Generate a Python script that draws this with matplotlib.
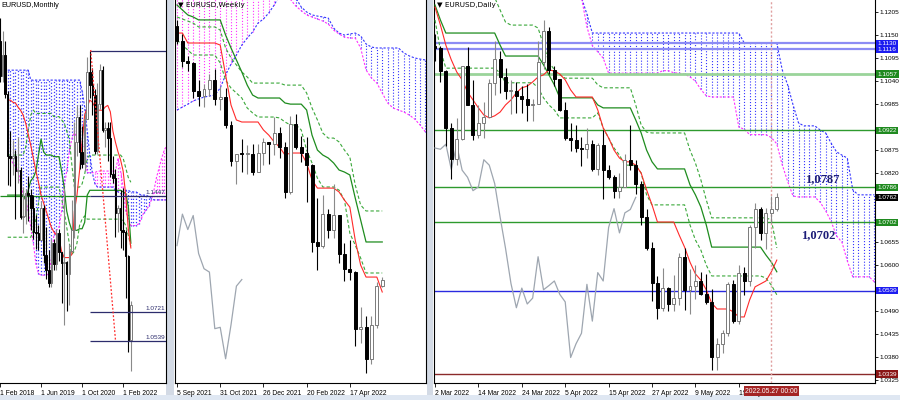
import matplotlib
matplotlib.use("Agg")
import matplotlib.pyplot as plt
import matplotlib.transforms as mtransforms
from matplotlib.patches import Rectangle
import numpy as np

plt.rcParams["font.family"] = ["Liberation Sans", "DejaVu Sans"]

W, H = 900, 400
BLUE = "#3434ff"
MAG = "#ff30ff"
RED = "#ff2a2a"
GREEN = "#1e8c1e"
LGREEN = "#3aa83a"
GRAY = "#9ea6b0"
NAVY = "#2c2c6c"

# ---------------- monthly, index 0 = Feb 2018 ----------------
m_open = [1.2414, 1.2194, 1.2324, 1.2079, 1.1691, 1.1684, 1.1691, 1.1601, 1.1604, 1.1313,
          1.1317, 1.1466, 1.1448, 1.1372, 1.1217, 1.1213, 1.1169, 1.1369, 1.1076, 1.0985,
          1.0899, 1.1152, 1.1017, 1.1213, 1.1093, 1.1027, 1.1031, 1.0955, 1.1101, 1.1234,
          1.1779, 1.1937, 1.1720, 1.1647, 1.1927, 1.2216, 1.2136, 1.2074, 1.1728, 1.2020,
          1.2228, 1.1858, 1.1869, 1.1808, 1.1580, 1.1558, 1.1338, 1.1370, 1.1235, 1.1218,
          1.1067, 1.0544]
m_high = [1.2555, 1.2476, 1.2414, 1.2097, 1.1852, 1.1791, 1.1733, 1.1815, 1.1625, 1.1500,
          1.1486, 1.1570, 1.1489, 1.1448, 1.1324, 1.1265, 1.1412, 1.1386, 1.1250, 1.1109,
          1.1179, 1.1175, 1.1239, 1.1239, 1.1097, 1.1495, 1.1038, 1.1147, 1.1422, 1.1908,
          1.2011, 1.2011, 1.1880, 1.1965, 1.2310, 1.2349, 1.2243, 1.2113, 1.2150, 1.2266,
          1.2254, 1.1909, 1.1909, 1.1909, 1.1692, 1.1616, 1.1386, 1.1482, 1.1495, 1.1233,
          1.1076, 1.0787]
m_low = [1.2153, 1.2155, 1.2055, 1.1510, 1.1508, 1.1575, 1.1301, 1.1526, 1.1302, 1.1216,
         1.1269, 1.1289, 1.1234, 1.1176, 1.1111, 1.1107, 1.1168, 1.1028, 1.0927, 1.0879,
         1.0879, 1.0981, 1.0981, 1.1036, 1.0778, 1.0636, 1.0727, 1.0767, 1.1095, 1.1185,
         1.1696, 1.1612, 1.1622, 1.1603, 1.1922, 1.2054, 1.1952, 1.1704, 1.1704, 1.1986,
         1.1847, 1.1752, 1.1664, 1.1563, 1.1524, 1.1186, 1.1222, 1.1121, 1.1106, 1.0806,
         1.0471, 1.0349]
m_close = [1.2194, 1.2324, 1.2079, 1.1691, 1.1684, 1.1691, 1.1601, 1.1604, 1.1313, 1.1317,
           1.1466, 1.1448, 1.1372, 1.1217, 1.1213, 1.1169, 1.1369, 1.1076, 1.0985, 1.0899,
           1.1152, 1.1017, 1.1213, 1.1093, 1.1027, 1.1031, 1.0955, 1.1101, 1.1234, 1.1779,
           1.1937, 1.1720, 1.1647, 1.1927, 1.2216, 1.2136, 1.2074, 1.1728, 1.2020, 1.2228,
           1.1858, 1.1869, 1.1808, 1.1580, 1.1558, 1.1338, 1.1370, 1.1235, 1.1218, 1.1067,
           1.0544, 1.0762]
m_lines_start = 3
m_tenkan = [1.2043, 1.2043, 1.2030, 1.2025, 1.2000, 1.1980, 1.1950, 1.1900, 1.1830, 1.1760,
            1.1680, 1.1600, 1.1530, 1.1450, 1.1400, 1.1350, 1.1300, 1.1250, 1.1220, 1.1200,
            1.1180, 1.1100, 1.1060, 1.1060, 1.1060, 1.1080, 1.1350, 1.1450, 1.1600, 1.1780,
            1.1950, 1.2000, 1.2043, 1.2030, 1.2000, 1.1980, 1.1980, 1.1980, 1.2000, 1.2010,
            1.1970, 1.1850, 1.1780, 1.1720, 1.1670, 1.1600, 1.1450, 1.1240, 1.1120]
m_kijun = [1.1450] * 7 + [1.1420, 1.1480, 1.1540, 1.1560, 1.1600, 1.1700, 1.1800, 1.1720,
           1.1700, 1.1700, 1.1700, 1.1690, 1.1690, 1.1690, 1.1600, 1.1500, 1.1350, 1.1280,
           1.1230, 1.1230, 1.1230, 1.1240, 1.1240, 1.1280, 1.1450] + [1.1480] * 13 + \
          [1.1470, 1.1460, 1.1380, 1.1150]
m_dash_hi = [1.1700] * 7 + [1.1750, 1.1850, 1.1950, 1.1980] + [1.1960] * 7 + [1.1940] * 3 + \
            [1.1920, 1.1900, 1.1850, 1.1800, 1.1640, 1.1500, 1.1500, 1.1500, 1.1520, 1.1580,
             1.1680] + [1.1700] * 13 + [1.1680, 1.1620, 1.1560, 1.1530]
m_dash_lo = [1.1187] * 10 + [1.1230, 1.1300, 1.1400] + [1.1500] * 8 + \
            [1.1430, 1.1350, 1.1250, 1.1150, 1.1080, 1.1100, 1.1150, 1.1260, 1.1300, 1.1320] + \
            [1.1300] * 14 + [1.1290, 1.1260, 1.1200, 1.1130]
m_cloud_start = 3
m_span_a = [1.2230] * 9 + [1.2168] * 20 + [1.2100, 1.2000, 1.1850, 1.1700, 1.1590, 1.1520] + \
           [1.1500] * 7 + [1.1480, 1.1470, 1.1460, 1.1450, 1.1480, 1.1480] + [1.1470] * 3 + \
           [1.1460] + [1.1450] * 3 + [1.1440, 1.1430] + [1.1420] * 6
m_span_b = [1.1700, 1.1680, 1.1650, 1.1630, 1.1600, 1.1530, 1.1450, 1.1420, 1.1350, 1.1250,
            1.1150, 1.1020, 1.0960, 1.0950, 1.0950, 1.0950, 1.0960, 1.1050, 1.1200, 1.1230,
            1.1250, 1.1350, 1.1500, 1.1600, 1.1720, 1.1800, 1.1850, 1.1800, 1.1780, 1.1760,
            1.1750, 1.1590, 1.1590, 1.1590, 1.1590, 1.1600] + [1.1600] * 6 + \
           [1.1600, 1.1680, 1.1600, 1.1500, 1.1350, 1.1300, 1.1260, 1.1260, 1.1260, 1.1270,
            1.1300, 1.1340, 1.1360, 1.1380, 1.1420, 1.1480, 1.1560, 1.1620, 1.1680, 1.1730,
            1.1760]
m_level_start = 35
m_levels = [1.2349, 1.1447, 1.0721, 1.0539]
m_level_labels = ["", "1.1447", "1.0721", "1.0539"]
m_trend_x = [35.35, 45.0]
m_trend_y = [1.2356, 1.0546]
m_tick_idx = [0, 16, 32, 48]
m_tick_lbl = ["1 Feb 2018", "1 Jun 2019", "1 Oct 2020", "1 Feb 2022"]

# ---------------- weekly, index 0 = 5 Sep 2021 ----------------
w_open = [1.1880, 1.1814, 1.1726, 1.1720, 1.1596, 1.1574, 1.1602, 1.1645, 1.1558, 1.1568,
          1.1446, 1.1287, 1.1318, 1.1316, 1.1316, 1.1239, 1.1320, 1.1370, 1.1359, 1.1411,
          1.1346, 1.1147, 1.1448, 1.1348, 1.1320, 1.1266, 1.0930, 1.0912, 1.1051, 1.0983,
          1.1045, 1.0877, 1.0810, 1.0795, 1.0545, 1.0551, 1.0412, 1.0562, 1.0733]
w_high = [1.1909, 1.1846, 1.1750, 1.1725, 1.1642, 1.1624, 1.1668, 1.1692, 1.1616, 1.1609,
          1.1464, 1.1290, 1.1383, 1.1355, 1.1360, 1.1360, 1.1386, 1.1371, 1.1482, 1.1434,
          1.1370, 1.1483, 1.1495, 1.1395, 1.1390, 1.1274, 1.1121, 1.1137, 1.1072, 1.1185,
          1.1045, 1.0924, 1.0936, 1.0800, 1.0642, 1.0600, 1.0600, 1.0749, 1.0772]
w_low = [1.1802, 1.1700, 1.1683, 1.1563, 1.1529, 1.1524, 1.1573, 1.1535, 1.1513, 1.1432,
         1.1264, 1.1186, 1.1235, 1.1227, 1.1222, 1.1236, 1.1268, 1.1272, 1.1313, 1.1300,
         1.1121, 1.1140, 1.1340, 1.1280, 1.1106, 1.0885, 1.0806, 1.0900, 1.0945, 1.0945,
         1.0837, 1.0757, 1.0760, 1.0470, 1.0482, 1.0349, 1.0390, 1.0550, 1.0730]
w_close = [1.1814, 1.1726, 1.1720, 1.1596, 1.1574, 1.1602, 1.1645, 1.1558, 1.1568, 1.1446,
           1.1287, 1.1318, 1.1316, 1.1316, 1.1239, 1.1320, 1.1370, 1.1359, 1.1411, 1.1346,
           1.1147, 1.1448, 1.1348, 1.1320, 1.1266, 1.0930, 1.0912, 1.1051, 1.0983, 1.1045,
           1.0877, 1.0810, 1.0795, 1.0545, 1.0551, 1.0412, 1.0562, 1.0733, 1.0762]
w_tenkan = [1.1851, 1.1851, 1.1807, 1.1807, 1.1807, 1.1807, 1.1807, 1.1807, 1.1798, 1.1666,
            1.1533, 1.1467, 1.1458, 1.1458, 1.1458, 1.1458, 1.1423, 1.1400, 1.1370, 1.1347,
            1.1312, 1.1321, 1.1321, 1.1321, 1.1277, 1.1202, 1.1166, 1.1166, 1.1166, 1.1166,
            1.1149, 1.1113, 1.1082, 1.0936, 1.0826, 1.0773, 1.0773, 1.0773, 1.0707]
w_kijun = [1.1975, 1.1953, 1.1931, 1.1922, 1.1909, 1.1909, 1.1909, 1.1909, 1.1909, 1.1842,
           1.1785, 1.1732, 1.1679, 1.1621, 1.1577, 1.1564, 1.1564, 1.1564, 1.1564, 1.1564,
           1.1542, 1.1537, 1.1537, 1.1537, 1.1511, 1.1400, 1.1334, 1.1312, 1.1299, 1.1277,
           1.1246, 1.1237, 1.1224, 1.1122, 1.1025, 1.0928, 1.0928, 1.0928, 1.0928]
w_dash_hi = [1.1922, 1.1913, 1.1904, 1.1895, 1.1878, 1.1878, 1.1878, 1.1878, 1.1864, 1.1785,
             1.1741, 1.1710, 1.1679, 1.1657, 1.1630, 1.1630, 1.1630, 1.1630, 1.1630, 1.1630,
             1.1621, 1.1621, 1.1621, 1.1621, 1.1586, 1.1520, 1.1467, 1.1409, 1.1387, 1.1387,
             1.1370, 1.1334, 1.1303, 1.1180, 1.1091, 1.1065, 1.1065, 1.1065, 1.1065]
w_dash_lo = [1.1820, 1.1798, 1.1776, 1.1754, 1.1754, 1.1754, 1.1754, 1.1754, 1.1719, 1.1643,
             1.1608, 1.1586, 1.1564, 1.1520, 1.1498, 1.1480, 1.1480, 1.1480, 1.1480, 1.1476,
             1.1458, 1.1445, 1.1445, 1.1423, 1.1334, 1.1277, 1.1210, 1.1171, 1.1171, 1.1171,
             1.1157, 1.1113, 1.0967, 1.0914, 1.0857, 1.0791, 1.0791, 1.0791, 1.0791]
w_span_a = [1.1511, 1.1524, 1.1537, 1.1551, 1.1560, 1.1568, 1.1573, 1.1577, 1.1608, 1.1666,
            1.1714, 1.1754, 1.1798, 1.1829, 1.1856, 1.1895, 1.1913, 1.1940, 1.1975, 1.2019,
            1.2041, 1.2019, 1.2006, 1.1966, 1.1944, 1.1931, 1.1926, 1.1922, 1.1917, 1.1873,
            1.1851, 1.1842, 1.1847, 1.1851, 1.1838, 1.1803, 1.1789, 1.1785, 1.1785, 1.1785,
            1.1785, 1.1785, 1.1763, 1.1750, 1.1741, 1.1736, 1.1732]
w_span_b = [1.2150] * 19 + [1.2100, 1.2060, 1.2000, 1.1970, 1.1950, 1.1931, 1.1922, 1.1913,
            1.1904, 1.1891, 1.1864, 1.1847, 1.1833, 1.1829, 1.1829, 1.1785, 1.1688, 1.1653,
            1.1630, 1.1586, 1.1542, 1.1520, 1.1511, 1.1502, 1.1489, 1.1471, 1.1445, 1.1414]
w_tick_idx = [0, 8, 16, 24, 32]
w_tick_lbl = ["5 Sep 2021", "31 Oct 2021", "26 Dec 2021", "20 Feb 2022", "17 Apr 2022"]

# ---------------- daily, index 0 = 2 Mar 2022 ----------------
d_open = [1.1125, 1.1120, 1.1064, 1.0929, 1.0854, 1.0902, 1.1076, 1.0984, 1.0912, 1.0941,
          1.0955, 1.1036, 1.1093, 1.1051, 1.1016, 1.1017, 1.1005, 1.0998, 1.0983, 1.0985,
          1.1086, 1.1160, 1.1067, 1.1045, 1.0970, 1.0903, 1.0900, 1.0880, 1.0877, 1.0889,
          1.0829, 1.0888, 1.0827, 1.0810, 1.0778, 1.0787, 1.0852, 1.0839, 1.0795, 1.0715,
          1.0640, 1.0556, 1.0498, 1.0545, 1.0507, 1.0521, 1.0620, 1.0541, 1.0551, 1.0562,
          1.0530, 1.0512, 1.0379, 1.0412, 1.0437, 1.0554, 1.0466, 1.0582, 1.0562, 1.0690,
          1.0735, 1.0677, 1.0725, 1.0733]
d_high = [1.1153, 1.1125, 1.1066, 1.0940, 1.0952, 1.1076, 1.1121, 1.1043, 1.0983, 1.0990,
          1.1044, 1.1137, 1.1111, 1.1072, 1.1043, 1.1039, 1.1028, 1.1034, 1.0997, 1.1137,
          1.1185, 1.1170, 1.1075, 1.1045, 1.0990, 1.0939, 1.0936, 1.0907, 1.0927, 1.0900,
          1.0893, 1.0924, 1.0840, 1.0815, 1.0820, 1.0865, 1.0936, 1.0852, 1.0800, 1.0735,
          1.0655, 1.0575, 1.0594, 1.0547, 1.0577, 1.0628, 1.0642, 1.0590, 1.0600, 1.0584,
          1.0578, 1.0542, 1.0425, 1.0445, 1.0560, 1.0565, 1.0600, 1.0595, 1.0697, 1.0749,
          1.0740, 1.0736, 1.0765, 1.0772]
d_low = [1.1087, 1.1039, 1.0885, 1.0806, 1.0840, 1.0899, 1.0987, 1.0900, 1.0905, 1.0905,
         1.0954, 1.1007, 1.1012, 1.0998, 1.0961, 1.0963, 1.0964, 1.0945, 1.0945, 1.0985,
         1.1068, 1.1057, 1.1028, 1.0968, 1.0898, 1.0874, 1.0870, 1.0837, 1.0856, 1.0825,
         1.0815, 1.0757, 1.0805, 1.0760, 1.0760, 1.0787, 1.0827, 1.0770, 1.0697, 1.0637,
         1.0515, 1.0470, 1.0490, 1.0490, 1.0490, 1.0504, 1.0493, 1.0482, 1.0520, 1.0528,
         1.0506, 1.0349, 1.0350, 1.0390, 1.0430, 1.0462, 1.0460, 1.0529, 1.0550, 1.0642,
         1.0660, 1.0639, 1.0700, 1.0730]
d_close = [1.1120, 1.1064, 1.0929, 1.0854, 1.0902, 1.1076, 1.0984, 1.0912, 1.0941, 1.0955,
           1.1036, 1.1093, 1.1051, 1.1016, 1.1017, 1.1005, 1.0998, 1.0983, 1.0985, 1.1086,
           1.1160, 1.1067, 1.1045, 1.0970, 1.0903, 1.0900, 1.0880, 1.0877, 1.0889, 1.0829,
           1.0888, 1.0827, 1.0810, 1.0778, 1.0787, 1.0852, 1.0839, 1.0795, 1.0715, 1.0640,
           1.0556, 1.0498, 1.0545, 1.0507, 1.0521, 1.0620, 1.0541, 1.0551, 1.0562, 1.0530,
           1.0512, 1.0379, 1.0412, 1.0437, 1.0554, 1.0466, 1.0582, 1.0562, 1.0690, 1.0735,
           1.0677, 1.0725, 1.0733, 1.0762]
d_tenkan = [1.1217, 1.1174, 1.1126, 1.1091, 1.1062, 1.1043, 1.1014, 1.0995, 1.0976, 1.0959,
            1.0952, 1.0957, 1.0966, 1.0983, 1.0995, 1.1012, 1.1024, 1.1028, 1.1038, 1.1050,
            1.1055, 1.1067, 1.1064, 1.1057, 1.1043, 1.1019, 1.1002, 1.1002, 1.1002, 1.1002,
            1.0971, 1.0928, 1.0904, 1.0875, 1.0856, 1.0847, 1.0847, 1.0839, 1.0820, 1.0780,
            1.0744, 1.0703, 1.0703, 1.0703, 1.0703, 1.0672, 1.0643, 1.0607, 1.0579, 1.0564,
            1.0541, 1.0509, 1.0495, 1.0495, 1.0495, 1.0488, 1.0476, 1.0476, 1.0517, 1.0548,
            1.0555, 1.0562, 1.0584, 1.0612]
d_kijun = [1.1222, 1.1186] + [1.1155] * 10 + [1.1126] + [1.1100] * 7 + [1.1079, 1.1055, 1.1031] + \
          [1.1000] * 7 + [1.0983] + [1.0976] * 6 + [1.0947, 1.0916, 1.0875, 1.0847] + \
          [1.0830] * 6 + [1.0792, 1.0768, 1.0739, 1.0696] + [1.0643] * 10 + [1.0624, 1.0607, 1.0584]
d_dash_hi = [np.nan] * 11 + [1.1240, 1.1210, 1.1181] + [1.1174] * 5 + [1.1167, 1.1126, 1.1086,
            1.1067, 1.1055] + [1.1047] * 6 + [1.1031] + [1.1024] * 6 + [1.0983, 1.0935, 1.0918] + \
            [1.0916] * 7 + [1.0875, 1.0844, 1.0804, 1.0756] + [1.0713] * 11 + [1.0708, 1.0641]
d_dash_lo = [1.1186, 1.1114] + [1.1071] * 10 + [1.1059] + [1.1036] * 6 + [1.1024, 1.1000, 1.0983,
            1.0971] + [1.0952] * 7 + [1.0964, 1.0928, 1.0904, 1.0880, 1.0863] + [1.0839] * 3 + \
            [1.0820, 1.0768] + [1.0744] * 7 + [1.0696, 1.0660, 1.0636, 1.0600] + [1.0574] * 10 + \
            [1.0569, 1.0552, 1.0529]
d_cloud_start = 27
d_span_a = [1.1240, 1.1200] + [1.1155] * 28 + [1.1131] * 7 + [1.1067, 1.1031, 1.0983, 1.0940] + \
           [1.0933] * 3 + [1.0923, 1.0916, 1.0892, 1.0871, 1.0863, 1.0856, 1.0780] + [1.0768] * 4
d_span_b = [1.1240, 1.1170, 1.1125, 1.1110, 1.1095] + [1.1059] * 10 + \
           [1.1065, 1.1065, 1.1060, 1.1059, 1.1057, 1.1050, 1.1040, 1.1020, 1.1005] + [1.1002] * 5 + \
           [1.0930, 1.0925] + [1.0912] * 4 + [1.0905, 1.0890, 1.0840, 1.0800, 1.0765] + [1.0763] * 4 + \
           [1.0750, 1.0730, 1.0705, 1.0670, 1.0655, 1.0610, 1.0572] + [1.0572] * 3 + [1.0560]
d_level_vals = [1.1130, 1.1116, 1.1057, 1.0922, 1.0786, 1.0702, 1.0539, 1.0339]
d_level_cols = ["#8c8cf4", "#8c8cf4", "#9ad49a", "#2e9a2e", "#2e9a2e", "#2e9a2e", "#2a2ae0", "#8b2a2a"]
d_level_lw = [1.6, 1.6, 2.0, 1.0, 1.0, 1.0, 1.0, 1.0]
d_box_vals = [1.1130, 1.1116, 1.1057, 1.0922, 1.0786, 1.0762, 1.0702, 1.0539, 1.0339]
d_box_cols = ["#1c1cf0", "#1c1cf0", "#1f8a1f", "#1f8a1f", "#1f8a1f", "#000000", "#1f8a1f", "#1c1cf0", "#8a1616"]
d_yticks = [1.1205, 1.1150, 1.1095, 1.1040, 1.0985, 1.0930, 1.0875, 1.0820, 1.0765, 1.0710,
            1.0655, 1.0600, 1.0545, 1.0490, 1.0435, 1.0380, 1.0325]
d_ytick_hidden = [1.0930, 1.0765, 1.0710, 1.0545]
d_tick_idx = [0, 8, 16, 24, 32, 40, 48, 56]
d_tick_lbl = ["2 Mar 2022", "14 Mar 2022", "24 Mar 2022", "5 Apr 2022", "15 Apr 2022",
              "27 Apr 2022", "9 May 2022", "19 May 2022"]
d_marker_idx = 62
d_notes = [("1,0787", 71.3, 1.0806), ("1,0702", 70.7, 1.0672)]


def candles(ax, o, h, l, c, width, minh):
    o, h, l, c = map(np.asarray, (o, h, l, c))
    x = np.arange(len(o))
    up = c >= o
    ax.vlines(x[up], l[up], h[up], color="#8a8a8a", lw=0.8, zorder=4)
    ax.vlines(x[~up], l[~up], h[~up], color="black", lw=0.8, zorder=4)
    bottom = np.minimum(o, c)
    height = np.maximum(np.abs(c - o), minh)
    ax.bar(x[up], height[up], width, bottom[up], facecolor="white", edgecolor="#7a7a7a",
           lw=0.7, zorder=5)
    ax.bar(x[~up], height[~up], width, bottom[~up], facecolor="black", edgecolor="black",
           lw=0.7, zorder=5)


def cloud(ax, start, a, b, lw=0.8):
    a, b = np.asarray(a), np.asarray(b)
    x = np.arange(start, start + len(a))
    up = a >= b
    ax.vlines(x[up], b[up], a[up], colors=BLUE, linestyles="dotted", lw=lw, zorder=1)
    ax.vlines(x[~up], a[~up], b[~up], colors=MAG, linestyles="dotted", lw=lw, zorder=1)
    ax.plot(x, a, color=BLUE, ls=(0, (2, 1.5)), lw=0.8, zorder=2)
    ax.plot(x, b, color=MAG, ls=(0, (2, 1.5)), lw=0.8, zorder=2)


def lines(ax, start, tenkan, kijun, hi, lo):
    x = np.arange(start, start + len(tenkan))
    ax.plot(x, hi, color=LGREEN, ls=(0, (3, 2)), lw=0.8, zorder=3)
    ax.plot(x, lo, color=LGREEN, ls=(0, (3, 2)), lw=0.8, zorder=3)
    ax.plot(x, kijun, color=GREEN, lw=0.9, zorder=3)
    ax.plot(x, tenkan, color=RED, lw=0.8, zorder=3)


def panel(x0, x1, xlim, ylim, ticks, labels):
    ax = fig.add_axes([x0 / W, 1 - 383 / H, (x1 - x0) / W, 383 / H])
    ax.set_facecolor("white")
    ax.set_xlim(*xlim)
    ax.set_ylim(*ylim)
    ax.spines["top"].set_visible(False)
    for s in ("left", "right", "bottom"):
        ax.spines[s].set_color("black")
        ax.spines[s].set_linewidth(0.8)
    ax.set_xticks(ticks)
    ax.set_xticklabels(labels, ha="left", fontsize=4.9)
    ax.tick_params(axis="x", length=3, width=0.6, pad=1.8)
    ax.set_yticks([])
    return ax


fig = plt.figure(figsize=(W / 100, H / 100), dpi=100)
fig.patch.set_facecolor("#d3dae5")
for rx0, rx1 in ((0, 166), (174, 427), (433, 900)):
    fig.patches.append(Rectangle((rx0 / W, 5 / H), (rx1 - rx0) / W, 395 / H,
                                 transform=fig.transFigure, fc="white", ec="none", zorder=-10))
fig.patches.append(Rectangle((0, 0), 1, 5 / H, transform=fig.transFigure,
                             fc="#dfe7f2", ec="none", zorder=-10))

# ---- monthly panel
ax1 = panel(0, 166, (3.01, 64.7), (1.0277, 1.2668), m_tick_idx, m_tick_lbl)
ax1.spines["left"].set_visible(False)
cloud(ax1, m_cloud_start, m_span_a, m_span_b, lw=0.9)
lines(ax1, m_lines_start, m_tenkan, m_kijun, m_dash_hi, m_dash_lo)
candles(ax1, m_open, m_high, m_low, m_close, 0.6, 0.0008)
ax1.hlines(m_levels[1], 0, m_level_start, color=GREEN, lw=0.9, zorder=3)
ax1.hlines(m_levels, m_level_start, 70, color=NAVY, lw=0.9, zorder=6)
ax1.plot(m_trend_x, m_trend_y, color=RED, ls=(0, (1.5, 1.5)), lw=0.9, zorder=6)
bl1 = mtransforms.blended_transform_factory(ax1.transAxes, ax1.transData)
for v, t in zip(m_levels, m_level_labels):
    ax1.text(0.995, v + 0.0006, t, transform=bl1, ha="right", va="bottom", fontsize=4.6,
             color=NAVY, zorder=7)
ax1.text(0.01, 0.995, "EURUSD,Monthly", transform=ax1.transAxes, fontsize=5.2,
         va="top", ha="left", zorder=8)

# ---- weekly panel
ax2 = panel(175, 426, (-0.37, 46.1), (1.0305, 1.1997), w_tick_idx, w_tick_lbl)
cloud(ax2, 0, w_span_a, w_span_b)
lines(ax2, 0, w_tenkan, w_kijun, w_dash_hi, w_dash_lo)
wx = np.arange(len(w_close) - 26)
ax2.plot(wx, w_close[26:], color=GRAY, lw=0.9, zorder=3)
candles(ax2, w_open, w_high, w_low, w_close, 0.55, 0.0004)
ax2.text(0.012, 0.995, "\u25bc EURUSD,Weekly", transform=ax2.transAxes, fontsize=5.2,
         va="top", ha="left", zorder=8, family=["DejaVu Sans"])

# ---- daily panel
ax3 = panel(434, 875, (-0.185, 81.1), (1.0318, 1.1234), d_tick_idx, d_tick_lbl)
cloud(ax3, d_cloud_start, d_span_a, d_span_b)
for v, col, lw in zip(d_level_vals, d_level_cols, d_level_lw):
    ax3.axhline(v, color=col, lw=lw, zorder=2)
lines(ax3, 0, d_tenkan, d_kijun, d_dash_hi, d_dash_lo)
dx = np.arange(len(d_close) - 26)
ax3.plot(dx, d_close[26:], color=GRAY, lw=0.9, zorder=3)
ax3.axvline(d_marker_idx, color="#e0a0a0", ls=(0, (1.5, 1.5)), lw=1.0, zorder=3)
candles(ax3, d_open, d_high, d_low, d_close, 0.55, 0.00018)
for t, xi, yv in d_notes:
    ax3.text(xi, yv, t, fontsize=9, fontweight="bold", color="#1c1c78",
             family=["Liberation Serif"], ha="center", va="center", zorder=8)
ax3.text(0.006, 0.995, "\u25bc EURUSD,Daily", transform=ax3.transAxes, fontsize=5.2,
         va="top", ha="left", zorder=8, family=["DejaVu Sans"])
ax3.yaxis.tick_right()
ax3.set_yticks(d_yticks)
ax3.set_yticklabels(["" if v in d_ytick_hidden else f"{v:.4f}" for v in d_yticks], fontsize=4.6)
ax3.tick_params(axis="y", length=2, width=0.6, pad=1)
bl3 = mtransforms.blended_transform_factory(ax3.transAxes, ax3.transData)
for v, col in zip(d_box_vals, d_box_cols):
    ax3.text(1.0 + 2.5 / 441, v, f"{v:.4f}", transform=bl3, fontsize=4.6, color="white",
             va="center", ha="left", clip_on=False, zorder=10,
             bbox=dict(boxstyle="square,pad=0.2", fc=col, ec="none"))
ax3.text(d_marker_idx, -0.012, "2022.05.27 00:00", transform=mtransforms.blended_transform_factory(
    ax3.transData, ax3.transAxes), fontsize=4.9, color="white", ha="center", va="top",
    clip_on=False, zorder=10, bbox=dict(boxstyle="square,pad=0.2", fc="#a42424", ec="none"))

fig.savefig("out.png", dpi=100)
